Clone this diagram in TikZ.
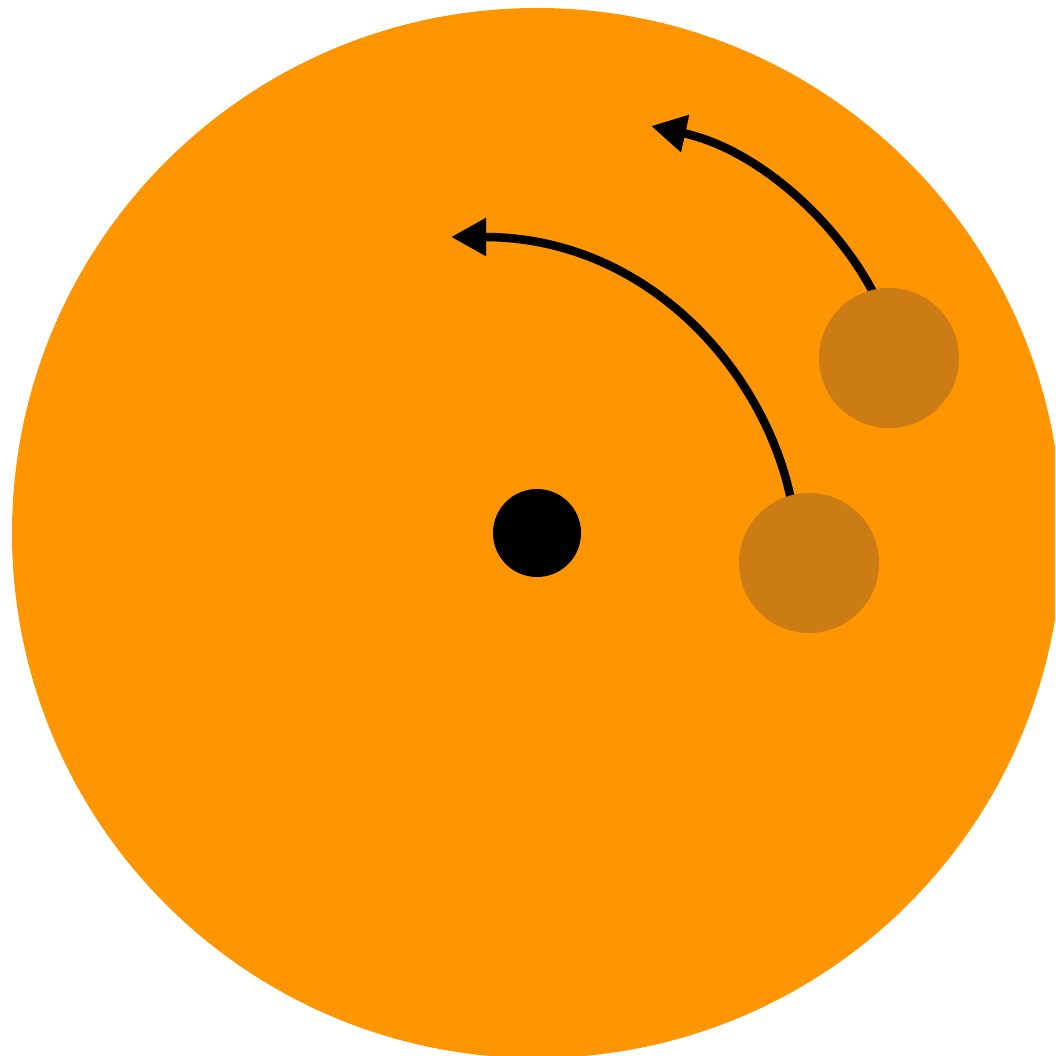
\documentclass[tikz,border=0pt]{standalone}
\usetikzlibrary{arrows.meta}
\definecolor{bigorange}{HTML}{FF9500}
\definecolor{ballbrown}{HTML}{CC7C14}
\begin{document}
\begin{tikzpicture}[x=1pt,y=-1pt,
  ball/.style={circle,fill=ballbrown,minimum size=140pt,inner sep=0pt},
  flow/.style={line width=8.5pt,-{Triangle[length=35pt,width=36pt]}}]
\useasboundingbox (0,0) rectangle (1055,1056);
\clip (0,0) rectangle (1055,1056);
\node[circle,fill=bigorange,minimum size=1050pt,inner sep=0pt] (disk) at (537,533) {};
\node[circle,fill=black,minimum size=88pt,inner sep=0pt] (core) at (537,533) {};
\coordinate (tipA) at (451,237);
\coordinate (tipB) at (651,126);
\coordinate (startA) at (792,505);
\coordinate (startB) at (876,298);
\draw[flow] (startA) .. controls (768,375) and (650,237) .. (tipA);
\draw[flow] (startB) .. controls (840,225) and (760,150) .. (tipB);
\node[ball] (ballA) at (809,563) {};
\node[ball] (ballB) at (889,358) {};
\end{tikzpicture}
\end{document}
